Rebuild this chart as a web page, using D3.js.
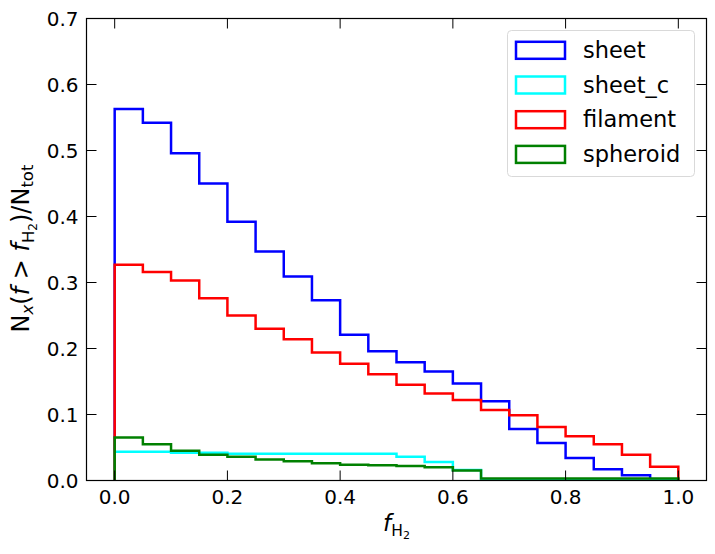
<!DOCTYPE html>
<html><head><meta charset="utf-8">
<script src="https://cdn.jsdelivr.net/npm/d3@7"></script>
<style>body{margin:0;background:#fff}svg{display:block}text{font-family:"DejaVu Sans",sans-serif;fill:#000}</style>
</head><body><svg id="c" width="715" height="554"></svg>
<script>
const binEdges = d3.range(0, 21).map(i => +(i * 0.05).toFixed(2));
const sheet    = [0.563,0.542,0.496,0.450,0.392,0.347,0.309,0.273,0.221,0.196,0.179,0.165,0.147,0.120,0.078,0.057,0.034,0.017,0.008,0.000];
const sheet_c  = [0.0435,0.0435,0.042,0.042,0.0407,0.0407,0.0407,0.0407,0.0407,0.0407,0.036,0.028,0.016,0.002,0.002,0.002,0.002,0.002,0.002,0.002];
const filament = [0.327,0.316,0.303,0.276,0.250,0.230,0.214,0.194,0.177,0.161,0.145,0.132,0.122,0.107,0.099,0.081,0.067,0.055,0.039,0.021];
const spheroid = [0.065,0.055,0.045,0.039,0.036,0.032,0.029,0.026,0.024,0.023,0.022,0.020,0.015,0.003,0.003,0.003,0.003,0.003,0.003,0.003];
const seriesNames = ["sheet","sheet_c","filament","spheroid"];
const seriesColors = ["#0000ff","#00ffff","#ff0000","#008000"];
const seriesData = [sheet, sheet_c, filament, spheroid];
const xTicks = [0.0,0.2,0.4,0.6,0.8,1.0];
const yTicks = [0.0,0.1,0.2,0.3,0.4,0.5,0.6,0.7];

const L=86.5, R=706.5, T=18.5, B=480.5;
const svg = d3.select("#c");
const x = d3.scaleLinear().domain([-0.05,1.05]).range([L,R]);
const y = d3.scaleLinear().domain([0,0.7]).range([B,T]);

const clip = svg.append("defs").append("clipPath").attr("id","clip");
clip.append("rect").attr("x",L).attr("y",T).attr("width",R-L).attr("height",B-T);

const line = d3.line().x(d=>x(d[0])).y(d=>y(d[1]));
seriesData.forEach((vals,i)=>{
  const pts=[[binEdges[0],0]];
  vals.forEach((v,j)=>{pts.push([binEdges[j],v]);pts.push([binEdges[j+1],v]);});
  pts.push([binEdges[binEdges.length-1],0]);
  svg.append("path").attr("d",line(pts)).attr("fill","none")
    .attr("stroke",seriesColors[i]).attr("stroke-width",2.5)
    .attr("stroke-linejoin","miter").attr("clip-path","url(#clip)");
});

// axes with inward ticks on all sides
const tl=10;
const g = svg.append("g");
xTicks.forEach(t=>{
  g.append("line").attr("x1",x(t)).attr("x2",x(t)).attr("y1",B).attr("y2",B-tl).attr("stroke","#000").attr("stroke-width",1);
  g.append("line").attr("x1",x(t)).attr("x2",x(t)).attr("y1",T).attr("y2",T+tl).attr("stroke","#000").attr("stroke-width",1);
  g.append("text").attr("x",x(t)).attr("y",B+23.5).attr("text-anchor","middle").attr("font-size",20).text(t.toFixed(1));
});
yTicks.forEach(t=>{
  g.append("line").attr("x1",L).attr("x2",L+tl).attr("y1",y(t)).attr("y2",y(t)).attr("stroke","#000").attr("stroke-width",1);
  g.append("line").attr("x1",R).attr("x2",R-tl).attr("y1",y(t)).attr("y2",y(t)).attr("stroke","#000").attr("stroke-width",1);
  g.append("text").attr("x",L-8).attr("y",y(t)+7.5).attr("text-anchor","end").attr("font-size",20).text(t.toFixed(1));
});
svg.append("rect").attr("x",L).attr("y",T).attr("width",R-L).attr("height",B-T).attr("fill","none").attr("stroke","#000").attr("stroke-width",1.2);

// x label
const xl = svg.append("text").attr("x",(L+R)/2).attr("y",531).attr("text-anchor","middle").attr("font-size",23);
xl.append("tspan").attr("font-style","italic").text("f");
xl.append("tspan").attr("font-size",15.5).attr("dy",5).text("H");
xl.append("tspan").attr("font-size",11).attr("dy",3).text("2");

// y label
const yl = svg.append("text").attr("transform",`translate(29,${(T+B)/2 - 1}) rotate(-90)`).attr("text-anchor","middle").attr("font-size",24);
yl.append("tspan").text("N");
yl.append("tspan").attr("font-style","italic").attr("font-size",16.5).attr("dy",4).text("x");
yl.append("tspan").attr("dy",-4).text("(");
yl.append("tspan").attr("font-style","italic").text("f");
yl.append("tspan").text(" > ");
yl.append("tspan").attr("font-style","italic").text("f");
yl.append("tspan").attr("font-size",16.5).attr("dy",5).text("H");
yl.append("tspan").attr("font-size",12).attr("dy",3).text("2");
yl.append("tspan").attr("dy",-8).text(")/");
yl.append("tspan").text("N");
yl.append("tspan").attr("font-size",16.5).attr("dy",4).text("tot");

// legend
const lg = svg.append("g");
lg.append("rect").attr("x",507.5).attr("y",30.5).attr("width",187).attr("height",146).attr("rx",4)
  .attr("fill","#fff").attr("fill-opacity",0.8).attr("stroke","#d9d9d9").attr("stroke-width",1);
seriesNames.forEach((n,i)=>{
  const cy = 50.3 + i*34.7;
  lg.append("rect").attr("x",516).attr("y",cy-8.5).attr("width",49).attr("height",17)
    .attr("fill","none").attr("stroke",seriesColors[i]).attr("stroke-width",2.5);
  lg.append("text").attr("x",583).attr("y",cy+7.5).attr("font-size",22.5).text(n);
});
</script></body></html>
